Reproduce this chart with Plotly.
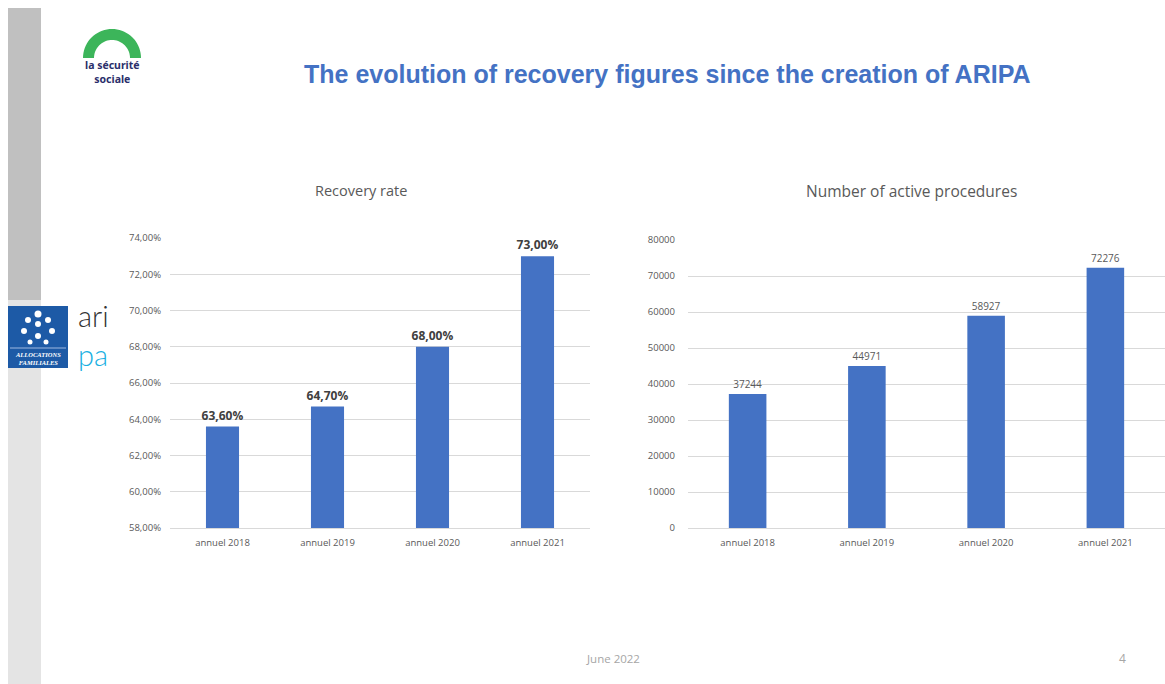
import plotly.graph_objects as go
import math

W, H = 1165, 684

# ---- data ----
categories = ["annuel 2018", "annuel 2019", "annuel 2020", "annuel 2021"]
recovery_rate = [0.636, 0.647, 0.680, 0.730]
recovery_labels = ["63,60%", "64,70%", "68,00%", "73,00%"]
rate_tickvals = [0.58, 0.60, 0.62, 0.64, 0.66, 0.68, 0.70, 0.72, 0.74]
rate_ticktext = ["58,00%", "60,00%", "62,00%", "64,00%", "66,00%", "68,00%", "70,00%", "72,00%", "74,00%"]
active_procedures = [37244, 44971, 58927, 72276]

def px(x):
    return x / W

def py(y):
    return 1 - y / H

BLUE = "#4472c4"
TICK = "#595959"
GRID = "#d9d9d9"
FONT = "Open Sans"

fig = go.Figure()

fig.add_trace(go.Bar(
    x=categories, y=recovery_rate, xaxis="x", yaxis="y",
    marker=dict(color=BLUE, line=dict(width=0)), width=0.315,
    text=recovery_labels, textposition="outside", cliponaxis=False, constraintext="none",
    textfont=dict(family="Open Sans", size=12, color="#404040", weight="bold"),
    showlegend=False, hoverinfo="skip",
))
fig.add_trace(go.Bar(
    x=categories, y=active_procedures, xaxis="x2", yaxis="y2",
    marker=dict(color=BLUE, line=dict(width=0)), width=0.315,
    text=[str(v) for v in active_procedures], textposition="outside", cliponaxis=False,
    constraintext="none",
    textfont=dict(family=FONT, size=10, color=TICK),
    showlegend=False, hoverinfo="skip",
))

axis_common = dict(tickfont=dict(family=FONT, size=9.5, color=TICK), showgrid=False,
                   ticks="", fixedrange=True, automargin=False, ticklabelstandoff=6)

fig.update_layout(
    width=W, height=H,
    margin=dict(l=0, r=0, t=0, b=0, pad=0, autoexpand=False),
    paper_bgcolor="white", plot_bgcolor="white",
    xaxis=dict(domain=[px(170), px(590)], anchor="y", showline=True, linecolor=GRID,
               linewidth=1, **axis_common),
    yaxis=dict(domain=[py(528), py(238)], anchor="x", range=[0.58, 0.74],
               tickvals=rate_tickvals, ticktext=rate_ticktext,
               showgrid=True, gridcolor=GRID, gridwidth=1, zeroline=False,
               tickfont=dict(family=FONT, size=9.5, color=TICK), ticks="",
               ticklabelstandoff=8, fixedrange=True, automargin=False),
    xaxis2=dict(domain=[px(688), 1.0], anchor="y2", showline=True, linecolor=GRID,
                linewidth=1, **axis_common),
    yaxis2=dict(domain=[py(528), py(240)], anchor="x2", range=[0, 80000], dtick=10000,
                tickformat="d", showgrid=True, gridcolor=GRID, gridwidth=1, zeroline=False,
                tickfont=dict(family=FONT, size=9.5, color=TICK), ticks="",
                ticklabelstandoff=12, fixedrange=True, automargin=False),
)

shapes = []
# left decorative bar
shapes.append(dict(type="rect", xref="paper", yref="paper", x0=px(8), x1=px(41),
                   y0=py(300), y1=py(8), fillcolor="#c0c0c0", line=dict(width=0), layer="below"))
shapes.append(dict(type="rect", xref="paper", yref="paper", x0=px(8), x1=px(41),
                   y0=py(684), y1=py(300), fillcolor="#e4e4e4", line=dict(width=0), layer="below"))

# green arch logo (securite sociale)
cx, cy, ro, ri = 112, 58, 29, 18
pts = []
for i in range(0, 37):
    a = math.pi * i / 36
    pts.append((cx + ro * math.cos(a), cy - ro * math.sin(a)))
for i in range(36, -1, -1):
    a = math.pi * i / 36
    pts.append((cx + ri * math.cos(a), cy - ri * math.sin(a)))
path = "M " + " L ".join(f"{px(x):.5f},{py(y):.5f}" for x, y in pts) + " Z"
shapes.append(dict(type="path", xref="paper", yref="paper", path=path,
                   fillcolor="#3cb55a", line=dict(width=0)))

# Allocations familiales logo
shapes.append(dict(type="rect", xref="paper", yref="paper", x0=px(8), x1=px(68),
                   y0=py(368), y1=py(306), fillcolor="#1d5aa6", line=dict(width=0)))
for (x, y, r) in [(38, 314, 3.5), (28, 320, 3), (48, 320, 3), (38, 324, 3),
                  (24, 331, 3), (52, 331, 3), (38, 336, 3), (30, 342, 2.5), (46, 342, 2.5)]:
    shapes.append(dict(type="circle", xref="paper", yref="paper",
                       x0=px(x - r), x1=px(x + r), y0=py(y + r), y1=py(y - r),
                       fillcolor="white", line=dict(width=0)))
shapes.append(dict(type="line", xref="paper", yref="paper", x0=px(10), x1=px(66),
                   y0=py(348), y1=py(348), line=dict(color="#9fb8e0", width=1)))
fig.update_layout(shapes=shapes)

annotations = [
    dict(text="<b>The evolution of recovery figures since the creation of ARIPA</b>",
         x=px(667), y=py(74), xref="paper", yref="paper", showarrow=False,
         font=dict(family="Liberation Sans", size=25, color="#4472c4"),
         xanchor="center", yanchor="middle"),
    dict(text="Recovery rate", x=px(361), y=py(190), xref="paper", yref="paper",
         showarrow=False, font=dict(family=FONT, size=14.5, color=TICK),
         xanchor="center", yanchor="middle"),
    dict(text="Number of active procedures", x=px(911), y=py(191), xref="paper", yref="paper",
         showarrow=False, font=dict(family=FONT, size=15.5, color=TICK),
         xanchor="center", yanchor="middle"),
    dict(text="June 2022", x=px(613), y=py(658), xref="paper", yref="paper",
         showarrow=False, font=dict(family=FONT, size=11.5, color="#a6a6a6"),
         xanchor="center", yanchor="middle"),
    dict(text="4", x=px(1122), y=py(658), xref="paper", yref="paper",
         showarrow=False, font=dict(family=FONT, size=12, color="#a6a6a6"),
         xanchor="center", yanchor="middle"),
    dict(text="<b>la sécurité<br>sociale</b>", x=px(112), y=py(72), xref="paper", yref="paper",
         showarrow=False, font=dict(family="Noto Sans", size=10.5, color="#2b2f6b"),
         xanchor="center", yanchor="middle", align="center"),
    dict(text="<i><b>ALLOCATIONS<br>FAMILIALES</b></i>", x=px(38), y=py(358), xref="paper",
         yref="paper", showarrow=False,
         font=dict(family="Liberation Serif", size=6.5, color="white"),
         xanchor="center", yanchor="middle", align="center"),
    dict(text="ari", x=px(76), y=py(335), xref="paper", yref="paper", showarrow=False,
         font=dict(family="Lato", size=29, color="#333333", weight=300),
         xanchor="left", yanchor="bottom"),
    dict(text="pa", x=px(76), y=py(335), xref="paper", yref="paper", showarrow=False,
         font=dict(family="Lato", size=29, color="#1ab0e2", weight=300),
         xanchor="left", yanchor="top"),
]
fig.update_layout(annotations=annotations)

fig.write_html("out.html", config={"displayModeBar": False},
               post_script="document.body.style.margin='0';document.body.style.overflow='hidden';")
